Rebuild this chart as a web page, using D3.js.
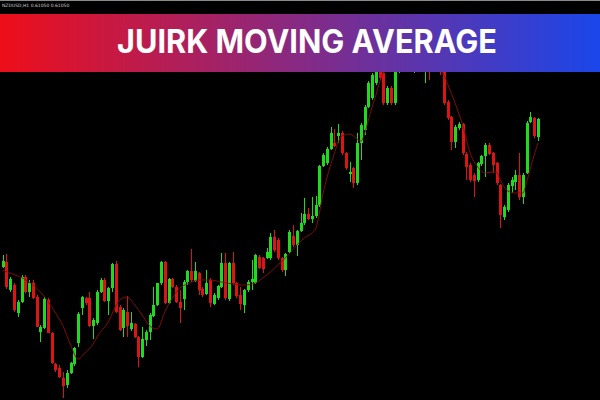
<!DOCTYPE html>
<html lang="en">
  <meta charset="utf-8">
  <title>Juirk Moving Average</title>
  <style>
	body {
		margin: 0px;
		background: #000000;
	}
	#chartDiv {
		position: fixed;
		width: 600px;
		height: 400px;
		left: 0px;
		top: 0px;
	}
  </style>
  <body>
	<div id="chartDiv"></div>
    <script src="https://cdn.jsdelivr.net/npm/d3@7"></script>
    <script>
		// Candle data (price in chart units, one entry per bar).
		var opens = [133,138,110,115,87,98,123,108,117,103,68,72,100,67,36,32,22,15,27,36,
			57,92,102,102,74,77,108,120,99,112,136,93,72,88,71,76,63,43,60,68,
			84,95,117,138,97,121,113,98,101,118,129,119,127,111,106,120,96,102,113,137,
			101,137,117,105,95,110,118,117,143,142,142,142,163,160,142,130,148,164,155,169,
			177,186,181,184,195,234,237,251,257,264,267,247,226,232,217,257,270,293,302,317,
			340,327,297,312,297,335,355,345,350,340,355,345,338,350,340,350,348,340,298,283,
			258,272,276,246,235,225,220,236,244,255,247,237,215,183,190,214,218,225,203,227,
			278,282,263];
		var highs = [145,146,123,117,100,125,125,120,120,105,75,103,102,68,37,35,28,30,38,53,
			88,104,103,108,82,110,122,122,113,137,139,95,92,104,88,77,64,73,70,87,
			113,117,139,139,122,122,115,110,120,130,151,138,128,113,130,122,107,115,147,147,
			138,148,118,113,111,120,140,146,145,143,152,167,170,162,143,147,170,175,170,187,
			202,192,203,204,235,247,253,273,271,276,269,248,238,233,267,277,295,319,327,342,
			345,332,314,314,345,350,360,365,368,360,360,364,355,355,358,355,352,345,300,284,
			275,278,277,248,237,227,238,245,257,257,248,238,216,195,217,223,230,247,227,279,
			288,283,282];
		var lows = [132,111,108,88,83,97,107,103,101,73,58,71,67,36,28,22,2,12,26,34,
			53,85,95,73,61,75,107,98,85,108,87,69,63,63,69,62,33,42,54,60,
			83,94,115,96,96,112,97,77,90,115,118,118,105,103,105,93,95,100,112,100,
			99,115,102,90,87,108,110,116,131,127,141,140,148,140,128,124,147,153,144,168,
			175,180,177,182,193,233,235,250,253,257,245,230,218,212,215,240,265,292,300,315,
			320,295,295,295,295,327,338,340,340,327,336,335,317,320,334,332,325,295,280,250,
			252,270,245,220,218,203,218,234,223,245,227,215,172,180,188,207,210,200,196,226,
			277,262,259];
		var closes = [139,113,121,90,98,123,108,117,102,73,73,101,67,37,30,23,14,27,37,52,
			86,103,97,74,80,108,120,99,112,136,88,70,90,74,77,63,43,61,68,85,
			95,117,138,97,121,113,98,92,118,129,120,129,110,105,117,97,105,114,137,102,
			137,117,104,96,110,118,121,145,132,131,148,163,150,142,130,146,168,155,169,177,
			186,181,184,195,234,245,251,267,254,267,247,232,228,217,257,275,293,317,325,338,
			322,297,312,297,340,345,342,360,362,355,342,360,350,336,352,338,334,297,282,258,
			273,276,247,233,220,219,237,244,255,246,235,217,185,193,215,220,225,203,225,277,
			283,264,281];

		// Moving average line, read at a subset of bars.
		var maIndex = [0,2,7,10,14,16,18,20,22,24,25,28,30,31,33,35,37,39,41,43,
			45,47,49,52,55,58,61,64,67,69,71,73,76,78,80,82,83,84,85,86,
			88,89,90,92,94,95,96,97,98,99,100,101,103,107,111,114,116,117,118,120,
			122,124,126,128,130,131,132,134,136,138,139,140,141,142];
		var maValue = [130,127,118,108,87,74,55,41,48,56,63,78,94,100,103,95,85,74,71,88,
			102,112,116,120,120,118,116,115,117,122,128,135,146,155,162,167,171,187,207,222,
			247,258,264,266,261,259,266,280,293,305,318,328,345,355,355,345,332,325,316,297,
			275,247,233,227,228,228,220,209,207,207,218,232,245,257];

		var titleText = "JUIRK MOVING AVERAGE";
		var symbolText = "NZDUSD,H1  0.61050 0.61050";

		var chartDiv = document.getElementById("chartDiv");
		var W = 600, H = 400;
		var svg = d3.select(chartDiv).append("svg")
			.attr("width", W).attr("height", H);

		// Black chart background.
		svg.append("rect").attr("width", W).attr("height", H).attr("fill", "#000000");

		// Scales: bar index -> x, price -> y.
		var bars = d3.range(opens.length);
		var x = d3.scaleLinear().domain([0, opens.length - 1]).range([2.7, 538]);
		var y = d3.scaleLinear().domain([0, 400]).range([400, 0]);
		var bodyW = 3;

		var upColor = "#20da20";
		var downColor = "#dc1414";
		function candleColor(i) { return closes[i] >= opens[i] ? upColor : downColor; }

		var candles = svg.append("g").attr("class", "candles");

		// Wicks.
		candles.selectAll("line.wick").data(bars).enter().append("line")
			.attr("class", "wick")
			.attr("x1", function(i) { return Math.round(x(i)) + 0.5; })
			.attr("x2", function(i) { return Math.round(x(i)) + 0.5; })
			.attr("y1", function(i) { return y(highs[i]); })
			.attr("y2", function(i) { return y(lows[i]); })
			.attr("stroke", candleColor)
			.attr("stroke-width", 1);

		// Bodies.
		candles.selectAll("rect.body").data(bars).enter().append("rect")
			.attr("class", "body")
			.attr("x", function(i) { return Math.round(x(i)) + 0.5 - bodyW / 2; })
			.attr("width", bodyW)
			.attr("y", function(i) { return y(Math.max(opens[i], closes[i])); })
			.attr("height", function(i) { return Math.max(1, Math.abs(y(opens[i]) - y(closes[i]))); })
			.attr("fill", candleColor);

		// Moving average line (thin, dark red).
		var maLine = d3.line()
			.x(function(d, k) { return x(maIndex[k]); })
			.y(function(d) { return y(d); })
			.curve(d3.curveMonotoneX);
		svg.append("path").datum(maValue)
			.attr("d", maLine)
			.attr("fill", "none")
			.attr("stroke", "#8e0c0c")
			.attr("stroke-width", 0.9);

		// Top strip with the symbol text and a thin window border.
		svg.append("rect").attr("x", 0).attr("y", 0).attr("width", W).attr("height", 14)
			.attr("fill", "#000000");
		svg.append("line").attr("x1", 0).attr("x2", W).attr("y1", 0.5).attr("y2", 0.5)
			.attr("stroke", "#8a8a8a").attr("stroke-width", 1);
		svg.append("text").attr("x", 2).attr("y", 7)
			.attr("font-family", "DejaVu Sans, sans-serif")
			.attr("font-size", 4.5)
			.attr("fill", "#d0d0d0")
			.text(symbolText);

		// Title banner with a red -> blue gradient.
		var defs = svg.append("defs");
		var grad = defs.append("linearGradient").attr("id", "bannerGrad")
			.attr("x1", "0%").attr("x2", "100%").attr("y1", "0%").attr("y2", "0%");
		grad.append("stop").attr("offset", "0%").attr("stop-color", "#ee0e1a");
		grad.append("stop").attr("offset", "50%").attr("stop-color", "#862a84");
		grad.append("stop").attr("offset", "100%").attr("stop-color", "#1a46ea");

		svg.append("rect").attr("x", 0).attr("y", 14).attr("width", W).attr("height", 58)
			.attr("fill", "url(#bannerGrad)");

		svg.append("text")
			.attr("x", 307).attr("y", 53)
			.attr("text-anchor", "middle")
			.attr("font-family", "Inter, 'Open Sans', sans-serif")
			.attr("font-weight", 700)
			.attr("font-size", 32)
			.attr("textLength", 380)
			.attr("lengthAdjust", "spacingAndGlyphs")
			.attr("fill", "#ffffff")
			.text(titleText);
    </script>
  </body>
</html>
